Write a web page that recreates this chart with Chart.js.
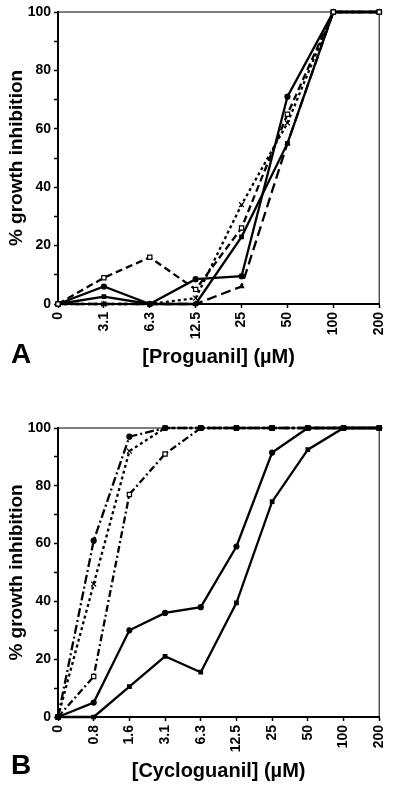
<!DOCTYPE html>
<html>
<head>
<meta charset="utf-8">
<script src="https://cdn.jsdelivr.net/npm/chart.js@4"></script>
<style>
  body { margin: 0; background: #fff; }
  canvas { display: block; }
</style>
</head>
<body>
<canvas id="proguanilChart" width="400" height="394"></canvas>
<canvas id="cycloguanilChart" width="400" height="394"></canvas>
<script>
// ----data panel A (proguanil)---------
const proguanilDoses = ["0", "3.1", "6.3", "12.5", "25", "50", "100", "200"];
const proguanilOpenSquare = [0, 9, 16, 5, 26, 65, 100, 100];
const proguanilSolidCircle = [0, 6, 0, 8.5, 9.5, 71, 100, 100];
const proguanilSolidSquare = [0, 2.5, 0, 0, 23, 55, 100, 100];
const proguanilCross = [0, 0, 0, 2, 34, 62, 100, 100];
const proguanilLongDash = [0, 0, 0, 0, 6, 55, 100, 100];

// ----data panel B (cycloguanil)---------
const cycloguanilDoses = ["0", "0.8", "1.6", "3.1", "6.3", "12.5", "25", "50", "100", "200"];
const cycloguanilCircle = [0, 61, 97, 100, 100, 100, 100, 100, 100, 100];
const cycloguanilCross = [0, 46, 92, 100, 100, 100, 100, 100, 100, 100];
const cycloguanilOpenSquare = [0, 14, 77, 91, 100, 100, 100, 100, 100, 100];
const cycloguanilSolidUpper = [0, 5, 30, 36, 38, 59, 91.5, 100, 100, 100];
const cycloguanilSolidLower = [0, 0, 10.5, 21, 15.5, 39.5, 74.5, 92.5, 100, 100];

const yLabelTicks = [0, 20, 40, 60, 80, 100];

Chart.defaults.font.family = "'Liberation Sans', Arial, sans-serif";
Chart.defaults.font.weight = "bold";
Chart.defaults.color = "#000";

// top + right frame lines and the panel letter
const framePlugin = {
  id: "frame",
  beforeDatasetsDraw(chart, args, opts) {
    const { ctx, chartArea: a } = chart;
    ctx.save();
    ctx.strokeStyle = "#000";
    ctx.lineWidth = 1;
    ctx.beginPath();
    ctx.moveTo(a.left, a.top);
    ctx.lineTo(a.right, a.top);
    ctx.lineTo(a.right, a.bottom);
    ctx.stroke();
    ctx.font = "bold 28px 'Liberation Sans', Arial, sans-serif";
    ctx.fillStyle = "#000";
    ctx.fillText(opts.letter, 11, opts.letterY);
    ctx.restore();
  },
};

function series(data, dash, pointStyle, radius, fill) {
  return {
    data: data,
    borderColor: "#000",
    borderWidth: 2.3,
    borderDash: dash,
    pointStyle: pointStyle,
    pointRadius: radius,
    pointBorderWidth: 1.2,
    pointBorderColor: "#000",
    pointBackgroundColor: fill,
    tension: 0,
    clip: false,
  };
}

function makeChart(id, labels, datasets, xTitle, letter, letterY, padding, xHeight, titlePadBottom) {
  return new Chart(document.getElementById(id), {
    type: "line",
    data: { labels: labels, datasets: datasets },
    options: {
      responsive: false,
      animation: false,
      layout: { padding: padding },
      plugins: {
        legend: { display: false },
        tooltip: { enabled: false },
        frame: { letter: letter, letterY: letterY },
      },
      scales: {
        x: {
          type: "category",
          offset: false,
          border: { color: "#000", width: 2 },
          grid: { drawOnChartArea: false, tickLength: 4, tickColor: "#000", tickWidth: 1.5, offset: false },
          ticks: { minRotation: 90, maxRotation: 90, padding: 4, font: { size: 14, weight: "bold" } },
          title: {
            display: true,
            text: xTitle,
            font: { size: 20, weight: "bold" },
            padding: { top: 0, bottom: titlePadBottom },
          },
          afterFit(scale) { scale.height = xHeight; },
        },
        y: {
          min: 0,
          max: 100,
          border: { color: "#000", width: 2 },
          grid: { drawOnChartArea: false, tickLength: 4, tickColor: "#000", tickWidth: 1.5 },
          ticks: {
            stepSize: 10,
            padding: 3,
            font: { size: 14, weight: "bold" },
            callback: (v) => (yLabelTicks.includes(v) ? v : ""),
          },
          title: {
            display: true,
            text: "% growth inhibition",
            font: { size: 19, weight: "bold" },
            padding: { top: 5, bottom: 0 },
          },
          afterFit(scale) { scale.width = 58; },
        },
      },
    },
    plugins: [framePlugin],
  });
}

// ----start proguanil chart (A)---------
const proguanilChart = makeChart(
  "proguanilChart",
  proguanilDoses,
  [
    series(proguanilOpenSquare, [7, 4], "rect", 3, "#fff"),
    series(proguanilSolidCircle, [], "circle", 2.5, "#000"),
    series(proguanilSolidSquare, [], "rect", 2.5, "#000"),
    series(proguanilCross, [3, 3], "crossRot", 3.5, "#000"),
    series(proguanilLongDash, [10, 5], "triangle", 2.5, "#000"),
  ],
  "[Proguanil] (\u00B5M)",
  "A",
  363,
  { top: 12, right: 18, left: 0, bottom: 0 },
  90,
  25
);
// ----end proguanil chart---------

// ----start cycloguanil chart (B)---------
const cycloguanilChart = makeChart(
  "cycloguanilChart",
  cycloguanilDoses,
  [
    series(cycloguanilCircle, [9, 3, 2, 3], "circle", 2.5, "#000"),
    series(cycloguanilCross, [3, 3], "crossRot", 3.5, "#000"),
    series(cycloguanilOpenSquare, [7, 3, 2, 3], "rect", 3, "#fff"),
    series(cycloguanilSolidUpper, [], "circle", 2.5, "#000"),
    series(cycloguanilSolidLower, [], "rect", 2.5, "#000"),
  ],
  "[Cycloguanil] (\u00B5M)",
  "B",
  380,
  { top: 34, right: 19, left: 0, bottom: 0 },
  71,
  5
);
// ----end cycloguanil chart---------
</script>
</body>
</html>
